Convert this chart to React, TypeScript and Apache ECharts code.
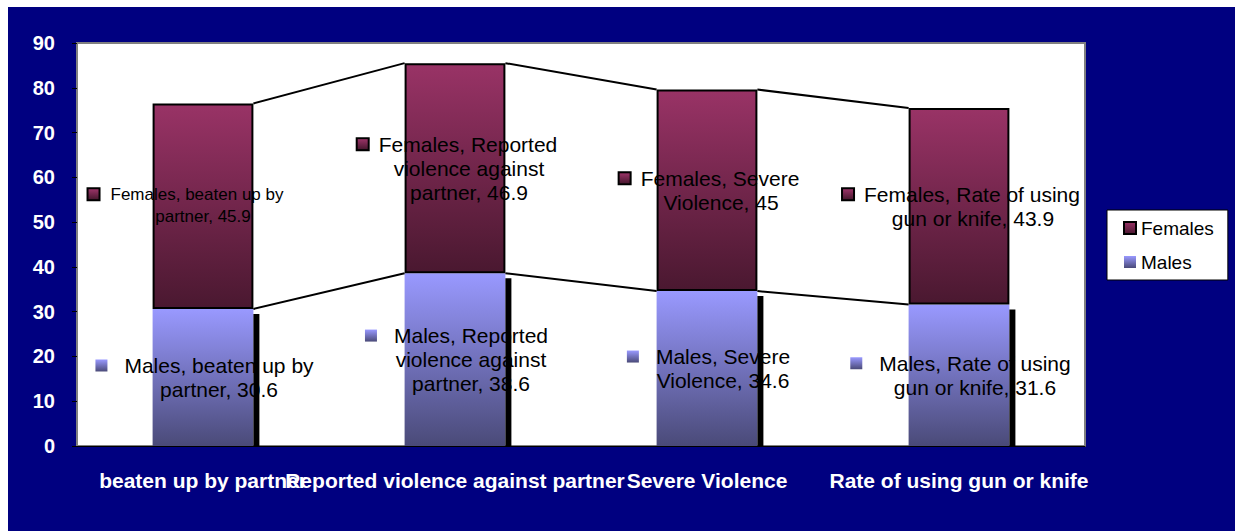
import React, { useEffect, useRef } from "react";
import * as echarts from "echarts";

const categories = [
  "beaten up by partner",
  "Reported violence against partner",
  "Severe Violence",
  "Rate of using gun or knife",
];
const males = [30.6, 38.6, 34.6, 31.6];
const females = [45.9, 46.9, 45, 43.9];
const yMin = 0;
const yMax = 90;
const yStep = 10;

const FONT = 'Arial, "Liberation Sans", sans-serif';

const femaleGrad = () =>
  new echarts.graphic.LinearGradient(0, 0, 0, 1, [
    { offset: 0, color: "#993366" },
    { offset: 1, color: "#4a1830" },
  ]);
const maleGrad = () =>
  new echarts.graphic.LinearGradient(0, 0, 0, 1, [
    { offset: 0, color: "#9999ff" },
    { offset: 1, color: "#4a4a78" },
  ]);

function wrap(text: string, maxChars: number): string[] {
  const words = text.split(" ");
  const lines: string[] = [];
  let cur = "";
  for (const w of words) {
    if (!cur) cur = w;
    else if ((cur + " " + w).length <= maxChars) cur += " " + w;
    else {
      lines.push(cur);
      cur = w;
    }
  }
  if (cur) lines.push(cur);
  return lines;
}

function makeFormatter() {
  return (p: any) => {
    const lines = wrap(`${p.seriesName}, ${p.name}, ${p.value}`, 22);
    return lines
      .map((l, i) => (i === 0 ? `{k|}{g|}{t|${l}}{s|}` : `{t|${l}}`))
      .join("\n");
  };
}

const femaleRich = (fontSize: number, lineHeight: number, gap: number, tail: number) => ({
  k: {
    width: 10,
    height: 10,
    backgroundColor: femaleGrad(),
    borderColor: "#000",
    borderWidth: 2,
  },
  g: { width: gap, height: 12 },
  s: { width: tail, height: 12 },
  t: { fontSize, lineHeight, color: "#000", fontFamily: FONT },
});

export default function App() {
  const ref = useRef<HTMLDivElement>(null);
  useEffect(() => {
    if (!ref.current) return;
    const chart = echarts.init(ref.current, undefined, { renderer: "svg" });
    const option: any = {
      animation: false,
      backgroundColor: "#000080",
      grid: {
        left: 69,
        top: 36,
        right: 150,
        bottom: 85,
        show: true,
        backgroundColor: "#ffffff",
        borderColor: "#808080",
        borderWidth: 2,
      },
      legend: {
        data: ["Females", "Males"],
        orient: "vertical",
        left: 1099,
        top: 203,
        backgroundColor: "#ffffff",
        borderColor: "#000000",
        borderWidth: 1,
        borderRadius: 0,
        padding: [8, 14, 8, 16],
        itemWidth: 12,
        itemHeight: 12,
        itemGap: 14,
        icon: "rect",
        textStyle: { fontSize: 19, color: "#000", fontFamily: FONT, lineHeight: 20 },
      },
      xAxis: {
        type: "category",
        data: categories,
        axisLine: { lineStyle: { color: "#000", width: 1 } },
        axisTick: { length: 5, lineStyle: { color: "#000" } },
        axisLabel: {
          interval: 0,
          hideOverlap: false,
          color: "#fff",
          fontWeight: "bold",
          fontSize: 21,
          fontFamily: FONT,
          margin: 24,
        },
        splitLine: { show: false },
      },
      yAxis: {
        type: "value",
        min: yMin,
        max: yMax,
        interval: yStep,
        axisLine: { show: false },
        axisTick: { show: true, length: 5, lineStyle: { color: "#000" } },
        axisLabel: {
          color: "#fff",
          fontWeight: "bold",
          fontSize: 20,
          fontFamily: FONT,
          margin: 22,
        },
        splitLine: { show: false },
      },
      series: [
        {
          name: "Males",
          type: "bar",
          stack: "total",
          barWidth: "40%",
          data: males.map((v) => ({ value: v })),
          itemStyle: { color: maleGrad(), borderWidth: 0 },
          label: {
            show: true,
            position: "inside",
            align: "center",
            offset: [16, 0],
            formatter: makeFormatter(),
            rich: {
              k: { width: 12, height: 12, backgroundColor: maleGrad() },
              g: { width: 17, height: 12 },
              s: { width: 29, height: 12 },
              t: { fontSize: 21, lineHeight: 24, color: "#000", fontFamily: FONT },
            },
          },
        },
        {
          name: "Females",
          type: "bar",
          stack: "total",
          barWidth: "40%",
          data: females.map((v, i) =>
            i === 0
              ? { value: v, label: { offset: [0, -1], rich: femaleRich(17, 22, 12, 34) } }
              : { value: v }
          ),
          itemStyle: { color: femaleGrad(), borderColor: "#000", borderWidth: 2 },
          label: {
            show: true,
            position: "inside",
            align: "center",
            offset: [14, 0],
            formatter: makeFormatter(),
            rich: femaleRich(21, 24, 11, 23),
          },
        },
        {
          name: "decor",
          type: "custom",
          z: 5,
          silent: true,
          data: categories.map((_, i) => [i, males[i], males[i] + females[i]]),
          renderItem: (params: any, api: any) => {
            const i = api.value(0);
            const m = api.value(1);
            const t = api.value(2);
            const bw = api.size([1, 0])[0] * 0.4;
            const base = api.coord([i, 0]);
            const mTop = api.coord([i, m]);
            const tTop = api.coord([i, t]);
            const children: any[] = [
              {
                type: "rect",
                shape: {
                  x: mTop[0] + bw / 2,
                  y: mTop[1] + 5,
                  width: 6,
                  height: base[1] - mTop[1] - 5,
                },
                style: { fill: "#000" },
              },
            ];
            if (i < categories.length - 1) {
              const nm = api.coord([i + 1, males[i + 1]]);
              const nt = api.coord([i + 1, males[i + 1] + females[i + 1]]);
              children.push({
                type: "line",
                shape: { x1: mTop[0] + bw / 2, y1: mTop[1], x2: nm[0] - bw / 2, y2: nm[1] },
                style: { stroke: "#000", lineWidth: 2 },
              });
              children.push({
                type: "line",
                shape: { x1: tTop[0] + bw / 2, y1: tTop[1], x2: nt[0] - bw / 2, y2: nt[1] },
                style: { stroke: "#000", lineWidth: 2 },
              });
            }
            return { type: "group", children };
          },
        },
      ],
    };
    chart.setOption(option);
    return () => chart.dispose();
  }, []);
  return (
    <div
      ref={ref}
      style={{ position: "absolute", left: 8, top: 7, width: 1227, height: 524 }}
    />
  );
}
